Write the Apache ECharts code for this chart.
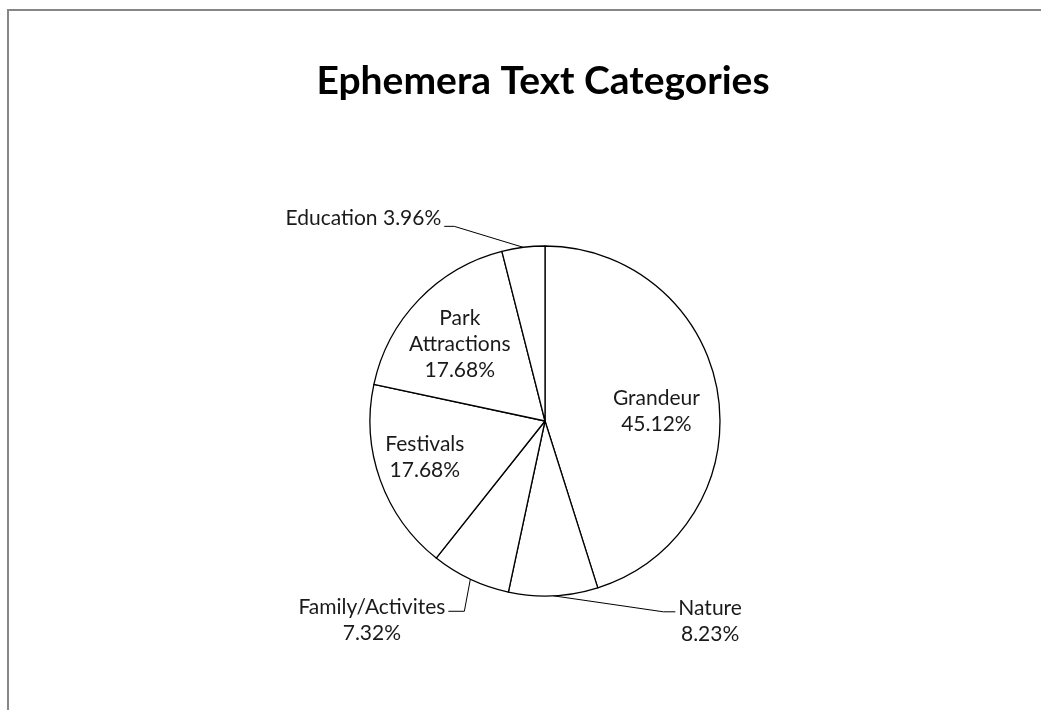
<!DOCTYPE html>
<html>
<head>
<meta charset="utf-8">
<title>Ephemera Text Categories</title>
<script src="https://cdn.jsdelivr.net/npm/echarts@6/dist/echarts.min.js"></script>
<style>
  html, body { margin: 0; padding: 0; background: #fff; }
  #chart { width: 1041px; height: 710px; }
</style>
</head>
<body>
<div id="chart"></div>
<script>
// Category names, clockwise from twelve o'clock
const categories = ['Grandeur', 'Nature', 'Family/Activites', 'Festivals', 'Park Attractions', 'Education'];
// Share of ephemera texts per category (%)
const shares = [45.12, 8.23, 7.32, 17.68, 17.68, 3.96];

const FONT = 'Lato, "Open Sans", sans-serif';
const CX = 545, CY = 421, R = 175;

// Labels drawn inside their slice, nudged from the default mid-radius spot
const insideShift = {
  'Grandeur': [22, 4],
  'Park Attractions': [-20, -14],
  'Festivals': [-35, 6]
};
// Leader lines for labels drawn outside: elbow offset from slice edge,
// short horizontal tail, which side the label sits on, label vertical offset
const leader = {
  'Education': { elbow: [-69, -21], tail: 10, side: -1, lift: -8.5 },
  'Nature': { elbow: [110, 16], tail: 12, side: 1, lift: 9 },
  'Family/Activites': { elbow: [-6, 32], tail: 16, side: -1, lift: 9.3 }
};

function labelText(name, value) {
  const pct = value.toFixed(2) + '%';
  if (name === 'Education') return name + ' ' + pct;
  return name.replace(' ', '\n') + '\n' + pct;
}

const pieData = categories.map(function (name, i) {
  const inside = !!insideShift[name];
  return {
    name: name,
    value: shares[i],
    label: { position: inside ? 'inside' : 'outside' },
    labelLine: { show: !inside }
  };
});

const chart = echarts.init(document.getElementById('chart'), null, { renderer: 'canvas' });

chart.setOption({
  animation: false,
  backgroundColor: '#ffffff',
  title: {
    text: 'Ephemera Text Categories',
    left: 538,
    top: 57,
    textAlign: 'center',
    textStyle: { fontFamily: FONT, fontWeight: 'bold', fontSize: 39, color: '#000' }
  },
  graphic: [{
    type: 'polyline',
    shape: { points: [[8, 720], [8, 10], [1050, 10]] },
    style: { stroke: '#868686', lineWidth: 2, fill: null },
    silent: true
  }],
  series: [{
    type: 'pie',
    center: [CX, CY],
    radius: R,
    startAngle: 90,
    clockwise: true,
    avoidLabelOverlap: false,
    emphasis: { disabled: true },
    itemStyle: { color: '#ffffff', borderColor: '#000000', borderWidth: 1.3 },
    label: {
      show: true,
      color: '#1a1a1a',
      fontFamily: FONT,
      fontSize: 21,
      lineHeight: 26,
      align: 'center',
      formatter: function (p) { return labelText(p.name, p.value); }
    },
    labelLine: {
      length: 20,
      length2: 10,
      lineStyle: { color: '#000', width: 1 }
    },
    labelLayout: function (p) {
      const name = categories[p.dataIndex];
      if (insideShift[name]) {
        return { dx: insideShift[name][0], dy: insideShift[name][1] };
      }
      const L = leader[name];
      const e = p.labelLinePoints[0];
      const elbow = [e[0] + L.elbow[0], e[1] + L.elbow[1]];
      const end = [elbow[0] + L.side * L.tail, elbow[1]];
      const w = p.labelRect.width;
      return {
        x: end[0] + L.side * (3 + w / 2),
        y: end[1] + L.lift,
        align: 'center',
        verticalAlign: 'middle',
        labelLinePoints: [e, elbow, end]
      };
    },
    data: pieData
  }]
});
</script>
</body>
</html>
